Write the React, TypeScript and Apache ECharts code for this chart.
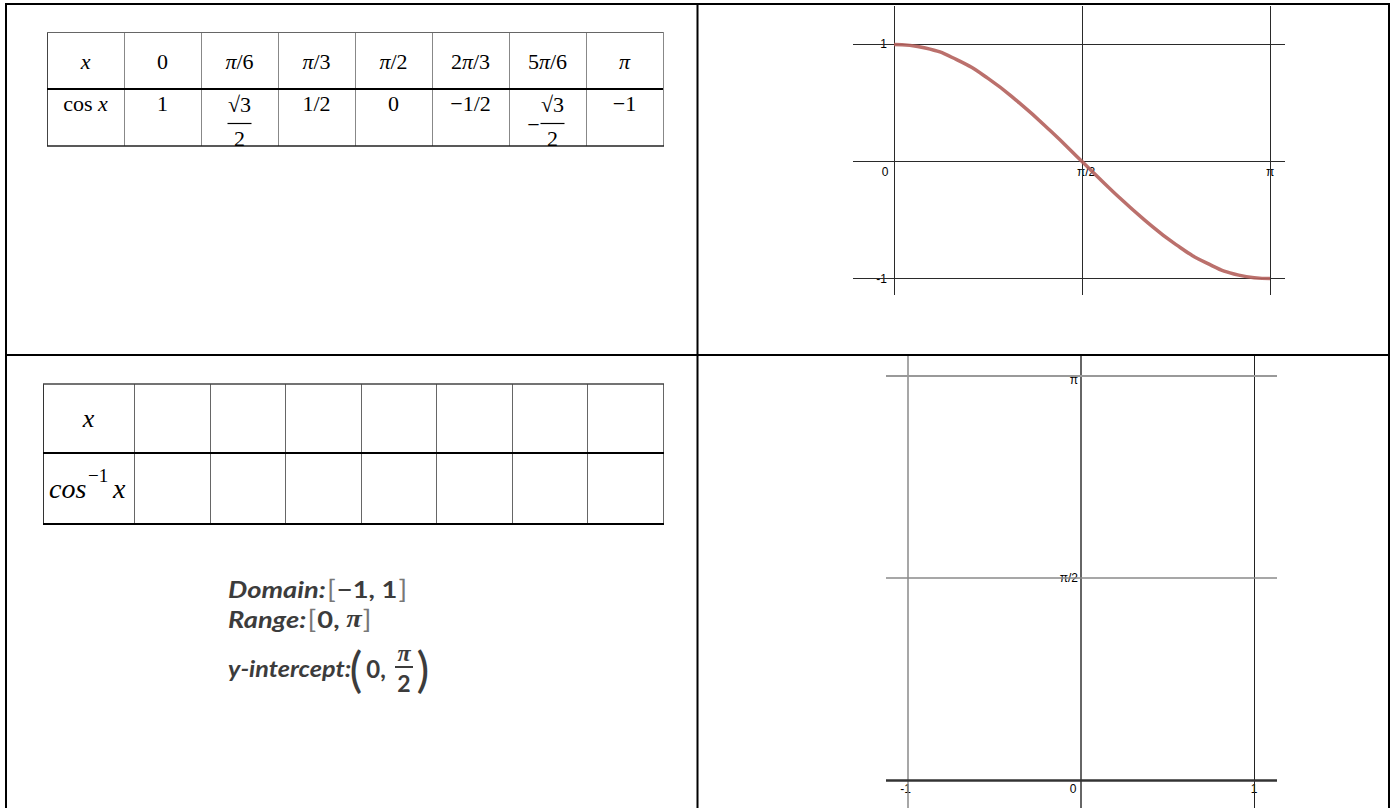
import React, { useEffect, useRef } from "react";
import * as echarts from "echarts";

// ---- data ----
const cosHeader = ["x", "0", "π/6", "π/3", "π/2", "2π/3", "5π/6", "π"];
const cosValues = ["cos x", "1", "√3/2", "1/2", "0", "−1/2", "−√3/2", "−1"];
const arccosHeader = ["x", "", "", "", "", "", "", ""];
const arccosValues = ["cos⁻¹x", "", "", "", "", "", "", ""];

const curveX = [0, 0.2618, 0.5236, 0.7854, 1.0472, 1.309, 1.5708, 1.8326, 2.0944, 2.3562, 2.618, 2.8798, 3.1416];
const curveY = [1, 0.97, 0.87, 0.71, 0.5, 0.26, 0, -0.26, -0.5, -0.71, -0.87, -0.97, -1];

const topXTicks = [0, 1.5708, 3.1416];
const topXTickLabels = ["0", "π/2", "π"];
const topYTicks = [-1, 1];
const topYTickLabels = ["-1", "1"];

const botXTicks = [-1, 0, 1];
const botXTickLabels = ["-1", "0", "1"];
const botYTicks = [1.5708, 3.1416];
const botYTickLabels = ["π/2", "π"];

const domainText = "−1, 1";
const rangeText = "0, ";

// ---- layout ----
const G1 = { left: 853, top: 6, width: 432, height: 289 };
const X1 = [-0.3425, 3.2665];
const Y1 = [-1.14, 1.328];
const G2 = { left: 886, top: 356, width: 391, height: 452 };
const X2 = [-1.127, 1.133];
const Y2 = [-0.218, 3.297];

const SERIF = "Liberation Serif";
const SANS = "Liberation Sans";
const TFS = 22;

function richify(s: string) {
  return s
    .split(/(π|x)/)
    .filter((p) => p.length > 0)
    .map((p) => (p === "π" || p === "x" ? `{i|${p}}` : `{n|${p}}`))
    .join("");
}
const tableRich = {
  n: { fontFamily: SERIF, fontSize: TFS, fill: "#000" },
  i: { fontFamily: SERIF, fontSize: TFS, fontStyle: "italic", fill: "#000" },
};

function line(x1: number, y1: number, x2: number, y2: number, stroke: string, w: number) {
  return { type: "line", shape: { x1, y1, x2, y2 }, style: { stroke, lineWidth: w }, silent: true };
}
function txt(x: number, y: number, text: string, extra: any = {}) {
  return {
    type: "text",
    x,
    y,
    silent: true,
    style: Object.assign({ text, align: "center", verticalAlign: "middle", fill: "#000", fontFamily: SERIF, fontSize: TFS }, extra),
  };
}

function buildGraphics() {
  const g: any[] = [];
  // frame
  g.push({ type: "rect", shape: { x: 6, y: 4, width: 1383, height: 812 }, style: { fill: "none", stroke: "#000", lineWidth: 2 }, silent: true });
  g.push(line(697.5, 4, 697.5, 808, "#000", 2));
  g.push(line(6, 355, 1389, 355, "#000", 2));

  // table 1
  const l1 = 47, w1 = 77, top1 = 32, mid1 = 89, bot1 = 146;
  for (let i = 0; i <= 8; i++) {
    g.push(line(l1 + i * w1 + 0.5, top1, l1 + i * w1 + 0.5, bot1, i === 0 ? "#444" : "#888", 1));
  }
  g.push(line(l1, top1 + 0.5, l1 + 8 * w1, top1 + 0.5, "#666", 1));
  g.push(line(l1, mid1, l1 + 8 * w1, mid1, "#000", 2));
  g.push(line(l1, bot1, l1 + 8 * w1 + 1, bot1, "#222", 1.5));
  cosHeader.forEach((h, i) => {
    g.push({ type: "text", x: l1 + i * w1 + w1 / 2, y: 61, silent: true, style: { text: richify(h), rich: tableRich, align: "center", verticalAlign: "middle" } });
  });
  cosValues.forEach((v, i) => {
    const cx = l1 + i * w1 + w1 / 2;
    if (v.indexOf("√3/2") >= 0) {
      const neg = v.startsWith("−");
      const fx = neg ? cx + 5 : cx;
      if (neg) g.push(txt(fx - 19, 124, "−"));
      g.push(txt(fx, 104, "√3"));
      g.push(line(fx - 12, 123.5, fx + 12, 123.5, "#000", 1.2));
      g.push(txt(fx, 138, "2"));
    } else {
      g.push({ type: "text", x: cx, y: 103, silent: true, style: { text: richify(v), rich: tableRich, align: "center", verticalAlign: "middle" } });
    }
  });

  // table 2
  const cols2 = [43, 134, 210, 285, 361, 436, 512, 587, 663];
  const top2 = 384, mid2 = 453, bot2 = 524;
  cols2.forEach((x, i) => g.push(line(x + 0.5, top2, x + 0.5, bot2, i === 0 ? "#333" : "#666", 1)));
  g.push(line(43, top2, 664, top2, "#444", 1.5));
  g.push(line(43, mid2, 664, mid2, "#000", 2));
  g.push(line(43, bot2, 664, bot2, "#000", 2));
  arccosHeader.forEach((h, i) => {
    if (!h) return;
    const cx = (cols2[i] + cols2[i + 1]) / 2;
    g.push(txt(cx, 418, h, { fontStyle: "italic", fontSize: 26 }));
  });
  arccosValues.forEach((v, i) => {
    if (!v) return;
    const x0 = cols2[i] + 6;
    const parts = v.split("⁻¹");
    g.push(txt(x0, 488, parts[0], { align: "left", fontStyle: "italic", fontSize: 28 }));
    g.push(txt(x0 + 39, 475, "−1", { align: "left", fontSize: 19 }));
    g.push(txt(x0 + 64, 488, parts[1], { align: "left", fontStyle: "italic", fontSize: 28 }));
  });

  // domain / range / intercept
  const BF = "Lato";
  const dark = "#3c3c3c";
  const mk = (fs: number) => ({
    b: { fontFamily: BF, fontWeight: "bold", fontStyle: "italic", fontSize: fs, fill: dark },
    p: { fontFamily: BF, fontWeight: "normal", fontSize: fs + 1, fill: "#777", padding: [0, 1, 0, 1] },
    v: { fontFamily: BF, fontWeight: "bold", fontSize: fs, fill: dark },
    vi: { fontFamily: SERIF, fontWeight: "bold", fontStyle: "italic", fontSize: fs + 1, fill: dark },
  });
  g.push({ type: "text", x: 228, y: 589, scaleX: 1.16, silent: true, style: { text: `{b|Domain:}{p|[}{v|${domainText}}{p|]}`, rich: mk(23.5), align: "left", verticalAlign: "middle" } });
  g.push({ type: "text", x: 228, y: 619, scaleX: 1.16, silent: true, style: { text: `{b|Range:}{p|[}{v|${rangeText}}{vi|π}{p|]}`, rich: mk(23.5), align: "left", verticalAlign: "middle" } });
  g.push({ type: "text", x: 228, y: 668, scaleX: 1.12, silent: true, style: { text: "{b|y-intercept:}", rich: mk(22.5), align: "left", verticalAlign: "middle" } });
  g.push(txt(356, 668, "(", { fontFamily: BF, fontSize: 48, fill: dark, fontWeight: "normal" }));
  g.push(txt(376, 668, "0,", { fontFamily: BF, fontSize: 24, fill: dark, fontWeight: "bold" }));
  g.push(txt(404, 653, "π", { fontFamily: SERIF, fontSize: 24, lineHeight: 22, fill: dark, fontWeight: "bold", fontStyle: "italic" }));
  g.push(line(395, 667, 413, 667, dark, 2));
  g.push(txt(404, 683, "2", { fontFamily: BF, fontSize: 23, lineHeight: 22, fill: dark, fontWeight: "bold" }));
  g.push(txt(423, 668, ")", { fontFamily: BF, fontSize: 48, fill: dark, fontWeight: "normal" }));

  return g;
}

function labelFmt(ticks: number[], labels: string[]) {
  return (v: number) => {
    const i = ticks.findIndex((t) => Math.abs(t - v) < 1e-6);
    return i >= 0 ? labels[i] : "";
  };
}
// offset of an axis so that it sits at the other axis's zero
function zeroOffset(size: number, ext: number[]) {
  return -size * (0 - ext[0]) / (ext[1] - ext[0]);
}

export default function App() {
  const ref = useRef<HTMLDivElement>(null);
  useEffect(() => {
    if (!ref.current) return;
    const chart = echarts.init(ref.current, undefined, { renderer: "svg" });
    const axLabel = { color: "#000", fontFamily: SANS, fontSize: 12 };
    const lab = (extra: any) => ({ fontFamily: SANS, fontSize: 12, color: "#000", ...extra });
    const hidden = { axisLine: { show: false, onZero: false }, axisTick: { show: false }, splitLine: { show: false } };
    const option: any = {
      animation: false,
      backgroundColor: "#fff",
      grid: [G1, G2],
      xAxis: [
        {
          type: "value", gridIndex: 0, min: X1[0], max: X1[1], position: "bottom",
          offset: zeroOffset(G1.height, Y1), ...hidden,
          axisLabel: Object.assign({}, axLabel, {
            customValues: topXTicks, margin: 4,
            formatter: (v: number) => {
              const s = labelFmt(topXTicks, topXTickLabels)(v);
              if (s === "0") return "{l|0}";
              if (s === "π/2") return "{r|π/2}";
              return s;
            },
            rich: { l: lab({ padding: [0, 18, 0, 0] }), r: lab({ padding: [0, 0, 0, 8] }) },
          }),
        },
        {
          type: "value", gridIndex: 1, min: X2[0], max: X2[1], position: "bottom",
          offset: zeroOffset(G2.height, Y2), ...hidden,
          axisLabel: Object.assign({}, axLabel, {
            customValues: botXTicks, margin: 3,
            formatter: (v: number) => {
              const s = labelFmt(botXTicks, botXTickLabels)(v);
              if (s === "0") return "{l|0}";
              if (s === "-1") return "{l2|-1}";
              return s;
            },
            rich: { l: lab({ padding: [0, 16, 0, 0] }), l2: lab({ padding: [0, 5, 0, 0] }) },
          }),
        },
      ],
      yAxis: [
        {
          type: "value", gridIndex: 0, min: Y1[0], max: Y1[1], position: "left",
          offset: zeroOffset(G1.width, X1), ...hidden,
          axisLabel: Object.assign({}, axLabel, { customValues: topYTicks, margin: 7, formatter: labelFmt(topYTicks, topYTickLabels) }),
        },
        {
          type: "value", gridIndex: 1, min: Y2[0], max: Y2[1], position: "left",
          offset: zeroOffset(G2.width, X2), ...hidden,
          axisLabel: Object.assign({}, axLabel, {
            customValues: botYTicks, margin: 3,
            formatter: (v: number) => {
              const s = labelFmt(botYTicks, botYTickLabels)(v);
              return s === "π" ? "{d|π}" : s;
            },
            rich: { d: lab({ padding: [8, 0, 0, 0] }) },
          }),
        },
      ],
      series: [
        {
          type: "line", xAxisIndex: 0, yAxisIndex: 0, data: [], z: 1, silent: true,
          markLine: {
            silent: true, symbol: ["none", "none"], label: { show: false },
            lineStyle: { color: "#2a2a2a", width: 1, type: "solid" },
            data: [{ xAxis: 0 }, { xAxis: 1.5708 }, { xAxis: 3.1416 }, { yAxis: -1 }, { yAxis: 0 }, { yAxis: 1 }],
          },
        },
        {
          type: "line", xAxisIndex: 0, yAxisIndex: 0, z: 5, smooth: true, showSymbol: false, silent: true,
          data: curveX.map((x, i) => [x, curveY[i]]),
          lineStyle: { color: "#b4605c", width: 3.5, opacity: 0.9 },
        },
        {
          type: "line", xAxisIndex: 1, yAxisIndex: 1, data: [], z: 1, silent: true,
          markLine: {
            silent: true, symbol: ["none", "none"], label: { show: false },
            data: [
              { xAxis: -1, lineStyle: { color: "#8a8a8a", width: 1.5, type: "solid" } },
              { xAxis: 0, lineStyle: { color: "#666", width: 2, type: "solid" } },
              { xAxis: 1, lineStyle: { color: "#222", width: 1, type: "solid" } },
              { yAxis: 0, lineStyle: { color: "#333", width: 2.5, type: "solid" } },
              { yAxis: 1.5708, lineStyle: { color: "#8a8a8a", width: 1.5, type: "solid" } },
              { yAxis: 3.1416, lineStyle: { color: "#999", width: 2, type: "solid" } },
            ],
          },
        },
      ],
      graphic: buildGraphics(),
    };
    chart.setOption(option);
    return () => chart.dispose();
  }, []);
  return <div ref={ref} style={{ position: "absolute", left: 0, top: 0, width: 1395, height: 808 }} />;
}
